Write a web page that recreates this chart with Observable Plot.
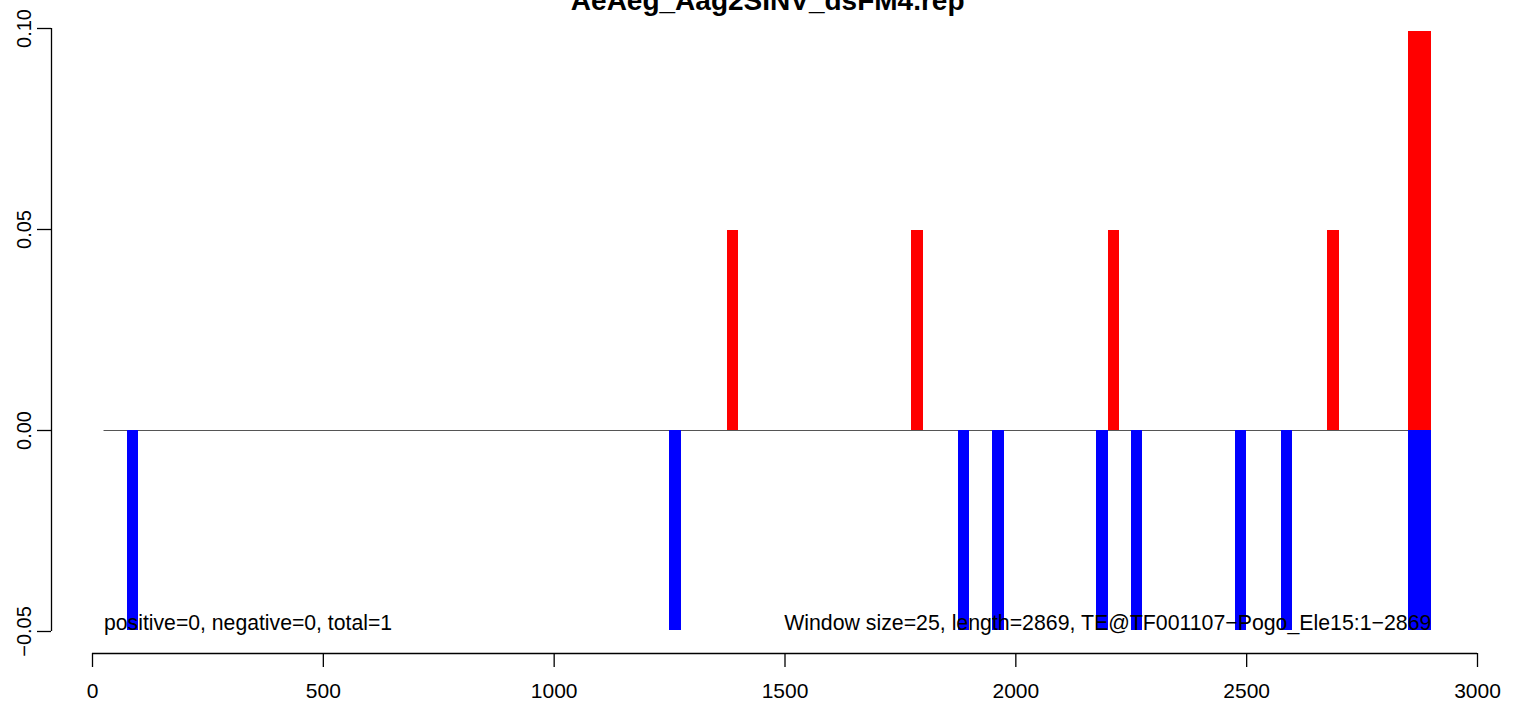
<!DOCTYPE html>
<html>
<head>
<meta charset="utf-8">
<script src="https://cdn.jsdelivr.net/npm/d3@7"></script>
<script src="https://cdn.jsdelivr.net/npm/@observablehq/plot@0.6"></script>
<style>
  html, body { margin: 0; padding: 0; background: #fff; overflow: hidden; }
  #chart svg { display: block; margin-top: -20px; }
</style>
</head>
<body>
<div id="chart"></div>
<script>
const titleText = "AeAeg_Aag2SINV_dsFM4.rep";
const windowSize = 25;
const posStarts = [1375, 1775, 2200, 2675, 2850, 2875];
const posValues = [0.0497, 0.0497, 0.0497, 0.0497, 0.0992, 0.0992];
const negStarts = [75, 1250, 1875, 1950, 2175, 2250, 2475, 2575, 2850, 2875];
const negValues = [-0.0497, -0.0497, -0.0497, -0.0497, -0.0497, -0.0497, -0.0497, -0.0497, -0.0497, -0.0497];
const xTicks = [0, 500, 1000, 1500, 2000, 2500, 3000];
const yTicks = [-0.05, 0, 0.05, 0.10];
const lineStart = 25;
const lineEnd = 2900;
const leftNote = "positive=0, negative=0, total=1";
const rightNote = "Window size=25, length=2869, TE@TF001107\u2212Pogo_Ele15:1\u22122869";

const pos = posStarts.map((s, i) => ({x1: s, x2: s + windowSize, v: posValues[i]}));
const neg = negStarts.map((s, i) => ({x1: s, x2: s + windowSize, v: negValues[i]}));
const yFmt = d3.format(".2f");

const chart = Plot.plot({
  width: 1536,
  height: 724,
  marginLeft: 92,
  marginRight: 59,
  marginTop: 48,
  marginBottom: 73,
  style: {fontFamily: "'Liberation Sans', Arial, Helvetica, sans-serif", fontSize: "21px", background: "white", color: "black"},
  x: {domain: [0, 3000], axis: null},
  y: {domain: [-0.05, 0.10], axis: null},
  marks: [
    Plot.ruleY([0], {x1: lineStart, x2: lineEnd, stroke: "#555555", strokeWidth: 1}),
    Plot.rectY(neg, {x1: "x1", x2: "x2", y1: 0, y2: "v", fill: "#0000ff", inset: 0, shapeRendering: "crispEdges"}),
    Plot.rectY(pos, {x1: "x1", x2: "x2", y1: 0, y2: "v", fill: "#ff0000", inset: 0, shapeRendering: "crispEdges"}),
    // y axis (offset like R)
    Plot.ruleX([0], {y1: yTicks[0], y2: yTicks[yTicks.length - 1], dx: -41, stroke: "black", strokeWidth: 1.3}),
    Plot.ruleY(yTicks, {y: d => d, x1: 0, x2: 0, insetLeft: -55, insetRight: 41, stroke: "black", strokeWidth: 1.3}),
    Plot.text(yTicks, {y: d => d, frameAnchor: "left", dx: -62, rotate: -90, text: d => yFmt(d),
      textAnchor: "middle", lineAnchor: "bottom", fontSize: 20, fill: "black"}),
    // x axis
    Plot.ruleY([yTicks[0]], {x1: xTicks[0], x2: xTicks[xTicks.length - 1], dy: 22, stroke: "black", strokeWidth: 1.3}),
    Plot.axisX(xTicks, {anchor: "bottom", dy: 22, tickSize: 14, tickPadding: 30, lineAnchor: "bottom",
      fontSize: 21, tickFormat: d => String(d), stroke: "black", strokeWidth: 1.3}),
    // annotations
    Plot.text([leftNote], {x: lineStart, y: yTicks[0], text: d => d, textAnchor: "start", lineAnchor: "bottom", dy: -2, fontSize: 21.2, fill: "black"}),
    Plot.text([rightNote], {x: lineEnd, y: yTicks[0], text: d => d, textAnchor: "end", lineAnchor: "bottom", dy: -2, fontSize: 21.3, fill: "black"}),
    // title
    Plot.text([titleText], {x: (lineStart + lineEnd) / 2, frameAnchor: "top", text: d => d, textAnchor: "middle", lineAnchor: "bottom", dy: -19, fontSize: 28, fontWeight: "bold", fill: "black"})
  ]
});
document.getElementById("chart").appendChild(chart);
</script>
</body>
</html>
